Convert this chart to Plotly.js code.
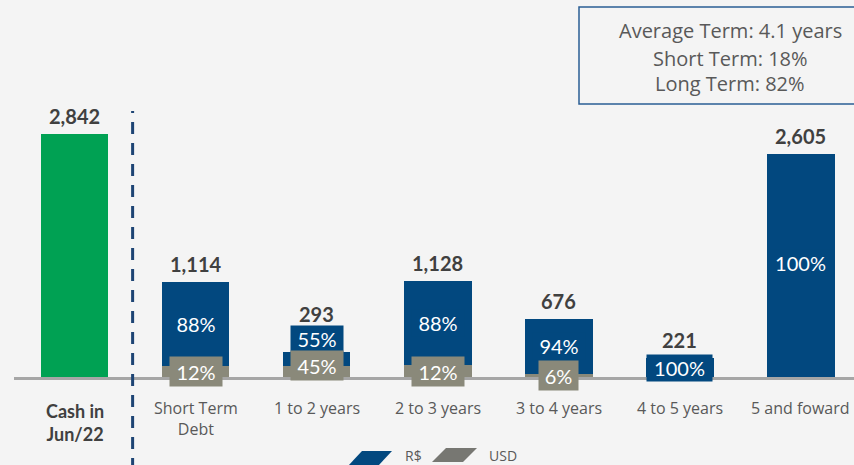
<!DOCTYPE html>
<html>
<head>
<meta charset="utf-8">
<script src="https://cdn.plot.ly/plotly-3.0.1.min.js"></script>
<style>html,body{margin:0;padding:0;background:#f4f4f4;}#chart{width:854px;height:465px;}</style>
</head>
<body>
<div id="chart"></div>
<script>
// ---- data ----
const categories = ['Cash in Jun/22', 'Short Term Debt', '1 to 2 years', '2 to 3 years', '3 to 4 years', '4 to 5 years', '5 and foward'];
const categoryLabels = ['Cash in<br>Jun/22', 'Short Term<br>Debt', '1 to 2 years', '2 to 3 years', '3 to 4 years', '4 to 5 years', '5 and foward'];
const cashValue = [2842];
const debtTotals = [1114, 293, 1128, 676, 221, 2605];
const brlShare = [88, 55, 88, 94, 100, 100];
const usdShare = [12, 45, 12, 6, 0, 0];
const summaryLines = ['Average Term: 4.1 years', 'Short Term: 18%', 'Long Term: 82%'];
const legendNames = ['R$', 'USD'];

// ---- style ----
const BLUE = '#02487f', GRAY = '#8a897a', GREEN = '#00a153', LEG_GRAY = '#777772';
const TXT = '#595959', DARK = '#404040';
const LABEL_FONT = 'Lato, sans-serif';
const BODY_FONT = '"Open Sans", sans-serif';
const totalLift = [0, 20, 0, 0, 0, 0]; // px lift of total label
const brlLift = [0, 20, 0, 0, 0, 3];   // px lift of R$ label (small bars)
const usdLift = [0, 6, 0, 0, 0, 0];    // px lift of USD label
const W = 854, H = 465, ML = 14, MB = 88;
const PW = W - ML, PH = H - MB;
const px = x => (x - ML) / PW;
const py = y => (PH - y) / PH;

const debtCats = categories.slice(1);
const usdVals = debtTotals.map((t, i) => t * usdShare[i] / 100);
const brlVals = debtTotals.map((t, i) => t * brlShare[i] / 100);
const fmt = v => v.toLocaleString('en-US');

const traces = [
  {type: 'bar', x: [categories[0]], y: cashValue, marker: {color: GREEN}, width: 0.56, hoverinfo: 'none', showlegend: false},
  {type: 'bar', name: legendNames[1], x: debtCats, y: usdVals, marker: {color: GRAY}, width: 0.56, hoverinfo: 'none', showlegend: false},
  {type: 'bar', name: legendNames[0], x: debtCats, y: brlVals, marker: {color: BLUE}, width: 0.56, hoverinfo: 'none', showlegend: false}
];

const annotations = [];
annotations.push({x: categories[0], y: cashValue[0], yref: 'y', text: fmt(cashValue[0]), showarrow: false, yanchor: 'middle', yshift: 18,
  font: {family: LABEL_FONT, size: 20, color: DARK, weight: 'bold'}});
debtTotals.forEach((t, i) => {
  annotations.push({x: debtCats[i], y: t, text: fmt(t), showarrow: false, yanchor: 'middle', yshift: 18 + totalLift[i],
    font: {family: LABEL_FONT, size: 20, color: DARK, weight: 'bold'}});
  const bt = brlShare[i] + '%';
  annotations.push({x: debtCats[i], y: usdVals[i] + brlVals[i] / 2, text: bt, showarrow: false, yanchor: 'middle', yshift: brlLift[i],
    bgcolor: BLUE, width: 13 * bt.length + 13, height: 26, borderpad: 0,
    font: {family: LABEL_FONT, size: 20, color: '#ffffff'}});
  if (usdShare[i] > 0) {
    const ut = usdShare[i] + '%';
    annotations.push({x: debtCats[i], y: usdVals[i] / 2, text: ut, showarrow: false, yanchor: 'middle', yshift: usdLift[i],
      bgcolor: GRAY, width: 13 * ut.length + 13, height: 29, borderpad: 0,
      font: {family: LABEL_FONT, size: 20, color: '#ffffff'}});
  }
});
categoryLabels.forEach((lab, i) => {
  if (i === 0) {
    annotations.push({x: categories[i], y: 0, text: lab, showarrow: false, yanchor: 'top', yshift: -21,
      font: {family: LABEL_FONT, size: 18, color: DARK, weight: 'bold'}});
  } else {
    annotations.push({x: categories[i], y: 0, text: lab, showarrow: false, yanchor: 'top', yshift: -18,
      font: {family: BODY_FONT, size: 16, color: TXT}});
  }
});
const sumY = [30, 58, 83];
summaryLines.forEach((s, i) => {
  annotations.push({xref: 'paper', yref: 'paper', x: px(730), y: py(sumY[i]), text: s, showarrow: false,
    xanchor: 'center', yanchor: 'middle', font: {family: BODY_FONT, size: 20, color: TXT}});
});
annotations.push({xref: 'paper', yref: 'paper', x: px(403), y: py(456), xanchor: 'left', yanchor: 'middle', text: legendNames[0], showarrow: false,
  font: {family: BODY_FONT, size: 14, color: TXT}});
annotations.push({xref: 'paper', yref: 'paper', x: px(487), y: py(455), xanchor: 'left', yanchor: 'middle', text: legendNames[1], showarrow: false,
  font: {family: BODY_FONT, size: 14, color: TXT}});

const poly = pts => 'M' + pts.map(p => px(p[0]) + ',' + py(p[1])).join(' L') + ' Z';
const shapes = [
  {type: 'line', xref: 'x', yref: 'paper', x0: 0.48, x1: 0.48, y0: py(470), y1: py(111), line: {color: '#1d4474', width: 3, dash: '12px,9px'}},
  {type: 'rect', xref: 'paper', yref: 'paper', x0: px(579), x1: px(881), y0: py(104), y1: py(7), line: {color: '#2a5d94', width: 1.5}, fillcolor: 'rgba(0,0,0,0)'},
  {type: 'path', xref: 'paper', yref: 'paper', path: poly([[348, 466], [362, 451], [392, 451], [378, 466]]), fillcolor: BLUE, line: {width: 0}},
  {type: 'path', xref: 'paper', yref: 'paper', path: poly([[432, 462], [446, 448], [477, 448], [463, 462]]), fillcolor: LEG_GRAY, line: {width: 0}}
];

const layout = {
  width: W, height: H,
  margin: {l: ML, r: 0, t: 0, b: MB, pad: 0},
  paper_bgcolor: '#f4f4f4', plot_bgcolor: '#f4f4f4',
  barmode: 'stack',
  showlegend: false,
  xaxis: {type: 'category', categoryorder: 'array', categoryarray: categories, range: [-0.5, 6.44],
    showline: true, linecolor: '#a6a6a6', linewidth: 3, showticklabels: false, ticks: '', showgrid: false, zeroline: false, fixedrange: true},
  yaxis: {range: [0, 4409], visible: false, showgrid: false, zeroline: false, fixedrange: true},
  annotations: annotations,
  shapes: shapes
};

Plotly.newPlot('chart', traces, layout, {displayModeBar: false, staticPlot: true});
</script>
</body>
</html>
